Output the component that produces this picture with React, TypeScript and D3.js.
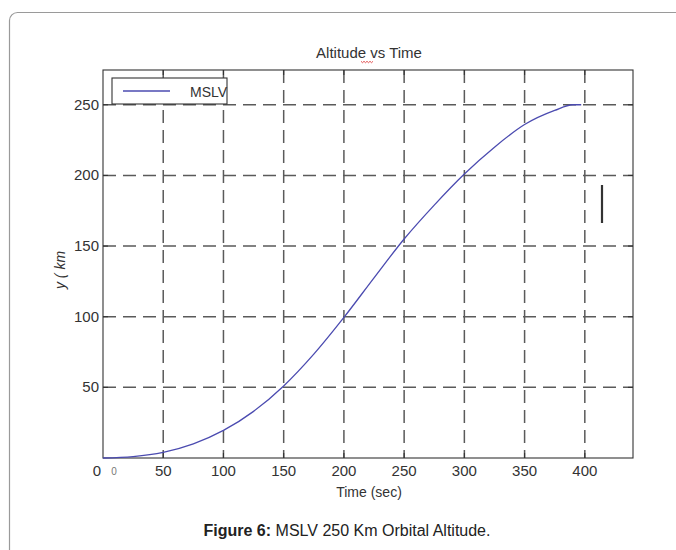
import React, { useEffect, useRef } from 'react';
import * as d3 from 'd3';

// altitude readings (sec, km)
const timeSec = [0, 25, 50, 75, 100, 125, 150, 175, 200, 225, 250, 275, 300, 325, 350, 375, 390, 397];
const altKm = [0, 1, 4, 10, 19.5, 33, 51, 73.5, 99.5, 127.5, 155, 179, 201, 220, 236, 246, 250, 250];
const xTicks = [50, 100, 150, 200, 250, 300, 350, 400];
const yTicks = [50, 100, 150, 200, 250];

const App = () => {
  const svgRef = useRef<SVGSVGElement>(null);

  useEffect(() => {
    const svg = d3.select(svgRef.current);
    svg.selectAll('*').remove();

    const left = 103, right = 633, top = 70, bottom = 458;
    const x = d3.scaleLinear().domain([0, 440]).range([left, right]);
    const y = d3.scaleLinear().domain([0, 274.6]).range([bottom, top]);
    const font = 'Liberation Sans, Arial, sans-serif';

    // card border
    svg.append('rect')
      .attr('x', 9.5).attr('y', 12.5).attr('width', 720).attr('height', 600)
      .attr('rx', 8).attr('fill', 'none').attr('stroke', '#9a9a9a').attr('stroke-width', 1.2);

    // title
    svg.append('text')
      .attr('x', 369).attr('y', 58).attr('text-anchor', 'middle')
      .attr('font-family', font).attr('font-size', 15).attr('fill', '#333')
      .text('Altitude vs Time');
    // spell-check squiggle under "vs"
    const sq = d3.range(0, 13, 1.5).map((d, i) => [361 + d, 61.5 + (i % 2 ? 1.2 : -0.2)] as [number, number]);
    svg.append('path').attr('d', d3.line()(sq)).attr('fill', 'none').attr('stroke', '#e04040').attr('stroke-width', 0.9);

    // grid
    const grid = svg.append('g').attr('stroke', '#5a5a5a').attr('stroke-width', 1.5)
      .attr('stroke-dasharray', '13,7');
    grid.selectAll('.gx').data(xTicks).enter().append('line')
      .attr('x1', d => x(d)).attr('x2', d => x(d)).attr('y1', top).attr('y2', bottom);
    grid.selectAll('.gy').data(yTicks).enter().append('line')
      .attr('y1', d => y(d)).attr('y2', d => y(d)).attr('x1', left).attr('x2', right);

    // frame
    svg.append('rect')
      .attr('x', left).attr('y', top).attr('width', right - left).attr('height', bottom - top)
      .attr('fill', 'none').attr('stroke', '#333').attr('stroke-width', 1.1);

    // inward ticks on all sides
    const tk = svg.append('g').attr('stroke', '#333').attr('stroke-width', 1.1);
    xTicks.forEach(d => {
      tk.append('line').attr('x1', x(d)).attr('x2', x(d)).attr('y1', bottom).attr('y2', bottom - 5);
      tk.append('line').attr('x1', x(d)).attr('x2', x(d)).attr('y1', top).attr('y2', top + 5);
    });
    yTicks.forEach(d => {
      tk.append('line').attr('y1', y(d)).attr('y2', y(d)).attr('x1', left).attr('x2', left + 5);
      tk.append('line').attr('y1', y(d)).attr('y2', y(d)).attr('x1', right).attr('x2', right - 5);
    });

    // tick labels
    svg.selectAll('.xl').data(xTicks).enter().append('text')
      .attr('x', d => x(d)).attr('y', bottom + 18).attr('text-anchor', 'middle')
      .attr('font-family', font).attr('font-size', 15).attr('fill', '#333')
      .text(d => d);
    svg.selectAll('.yl').data(yTicks).enter().append('text')
      .attr('x', left - 4).attr('y', d => y(d) + 5).attr('text-anchor', 'end')
      .attr('font-family', font).attr('font-size', 15).attr('fill', '#333')
      .text(d => d);
    svg.append('text').attr('x', 97).attr('y', bottom + 18).attr('text-anchor', 'middle')
      .attr('font-family', font).attr('font-size', 15).attr('fill', '#333').text('0');
    svg.append('text').attr('x', x(0) + 11).attr('y', bottom + 17).attr('text-anchor', 'middle')
      .attr('font-family', font).attr('font-size', 10).attr('fill', '#777').text('0');

    // axis labels
    svg.append('text').attr('x', 369).attr('y', 497).attr('text-anchor', 'middle')
      .attr('font-family', font).attr('font-size', 14).attr('fill', '#333').text('Time (sec)');
    svg.append('text').attr('transform', 'translate(65,270) rotate(-90)').attr('text-anchor', 'middle')
      .attr('font-family', font).attr('font-size', 14).attr('font-style', 'italic').attr('fill', '#333')
      .text('y ( km');

    // curve
    const line = d3.line<number>()
      .x((d, i) => x(timeSec[i]))
      .y(d => y(d))
      .curve(d3.curveMonotoneX);
    svg.append('path').datum(altKm).attr('d', line)
      .attr('fill', 'none').attr('stroke', '#4b4bb0').attr('stroke-width', 1.3);

    // legend
    svg.append('rect').attr('x', 112).attr('y', 78).attr('width', 115).attr('height', 26)
      .attr('fill', '#fff').attr('stroke', '#333').attr('stroke-width', 1.1);
    svg.append('line').attr('x1', 123).attr('x2', 170).attr('y1', 91).attr('y2', 91)
      .attr('stroke', '#4b4bb0').attr('stroke-width', 1.3);
    svg.append('text').attr('x', 190).attr('y', 96.5)
      .attr('font-family', font).attr('font-size', 14).attr('fill', '#333').text('MSLV');

    // stray mark on the right
    svg.append('line').attr('x1', 602).attr('x2', 602).attr('y1', 185).attr('y2', 223)
      .attr('stroke', '#333').attr('stroke-width', 2.2);

    // caption
    const cap = svg.append('text').attr('x', 347).attr('y', 536).attr('text-anchor', 'middle')
      .attr('font-family', font).attr('font-size', 16).attr('fill', '#222');
    cap.append('tspan').attr('font-weight', 'bold').text('Figure 6: ');
    cap.append('tspan').text('MSLV 250 Km Orbital Altitude.');
  }, []);

  return (
    <svg ref={svgRef} width={676} height={550}
      style={{ position: 'absolute', left: 0, top: 0, background: '#fff' }} />
  );
};

export default App;
